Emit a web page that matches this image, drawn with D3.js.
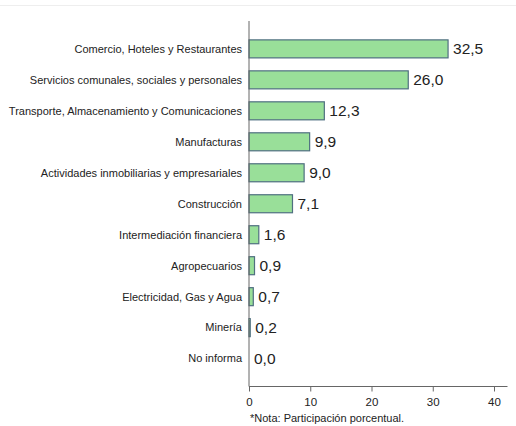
<!DOCTYPE html>
<html><head><meta charset="utf-8">
<script src="https://cdn.jsdelivr.net/npm/d3@7/dist/d3.min.js"></script>
<style>body{margin:0;background:#fff}svg{display:block}</style>
</head><body><svg id="c" width="516" height="426"></svg>
<script>
const categories = ["Comercio, Hoteles y Restaurantes","Servicios comunales, sociales y personales","Transporte, Almacenamiento y Comunicaciones","Manufacturas","Actividades inmobiliarias y empresariales","Construcción","Intermediación financiera","Agropecuarios","Electricidad, Gas y Agua","Minería","No informa"];
const values = [32.5,26.0,12.3,9.9,9.0,7.1,1.6,0.9,0.7,0.2,0.0];
const ticks = [0,10,20,30,40];
const note = "*Nota: Participación porcentual.";

const svg = d3.select("#c");
const font = "'Liberation Sans', Arial, sans-serif";
const x = d3.scaleLinear().domain([0,40]).range([249,494]);
const xEnd = 507.5;
const y = d3.scalePoint().domain(categories).range([21,386.5]).padding(0.9);
const barH = 18;

svg.append("line").attr("x1",0).attr("x2",516).attr("y1",5.5).attr("y2",5.5).attr("stroke","#eeeeee");

svg.selectAll("rect.bar").data(values).enter().append("rect")
  .attr("x", x(0)).attr("y",(d,i)=>y(categories[i])-barH/2)
  .attr("width", d=>Math.max(0,x(d)-x(0))).attr("height",barH)
  .attr("fill","#99df99").attr("stroke", d=>d>0?"#4f6f80":"none").attr("stroke-width",1.2);

svg.selectAll("text.val").data(values).enter().append("text")
  .attr("x", d=>x(d)+5).attr("y",(d,i)=>y(categories[i]))
  .attr("dy","0.36em").attr("font-family",font).attr("font-size",15.5).attr("fill","#222")
  .text(d=>d.toFixed(1).replace(".",","));

svg.selectAll("text.cat").data(categories).enter().append("text")
  .attr("x", 242).attr("y", d=>y(d)).attr("dy","0.35em").attr("text-anchor","end")
  .attr("font-family",font).attr("font-size",11).attr("fill","#222").text(d=>d);

const axisY = 386.5;
svg.append("line").attr("x1",x(0)).attr("x2",x(0)).attr("y1",21).attr("y2",axisY).attr("stroke","#666");
const xa = svg.append("g").attr("transform",`translate(0,${axisY})`)
  .call(d3.axisBottom(x).tickValues(ticks).tickSize(5).tickSizeOuter(0).tickFormat(d3.format("d")));
xa.select(".domain").remove();
xa.append("line").attr("x1",x(0)).attr("x2",xEnd).attr("stroke","#666");
xa.selectAll(".tick line").attr("stroke","#666");
xa.selectAll(".tick text").attr("font-family",font).attr("font-size",11.5).attr("fill","#222").attr("dy","1em");

svg.append("text").attr("x",250).attr("y",418).attr("dy","0.35em").attr("font-family",font)
  .attr("font-size",11).attr("fill","#222").text(note);
</script></body></html>
